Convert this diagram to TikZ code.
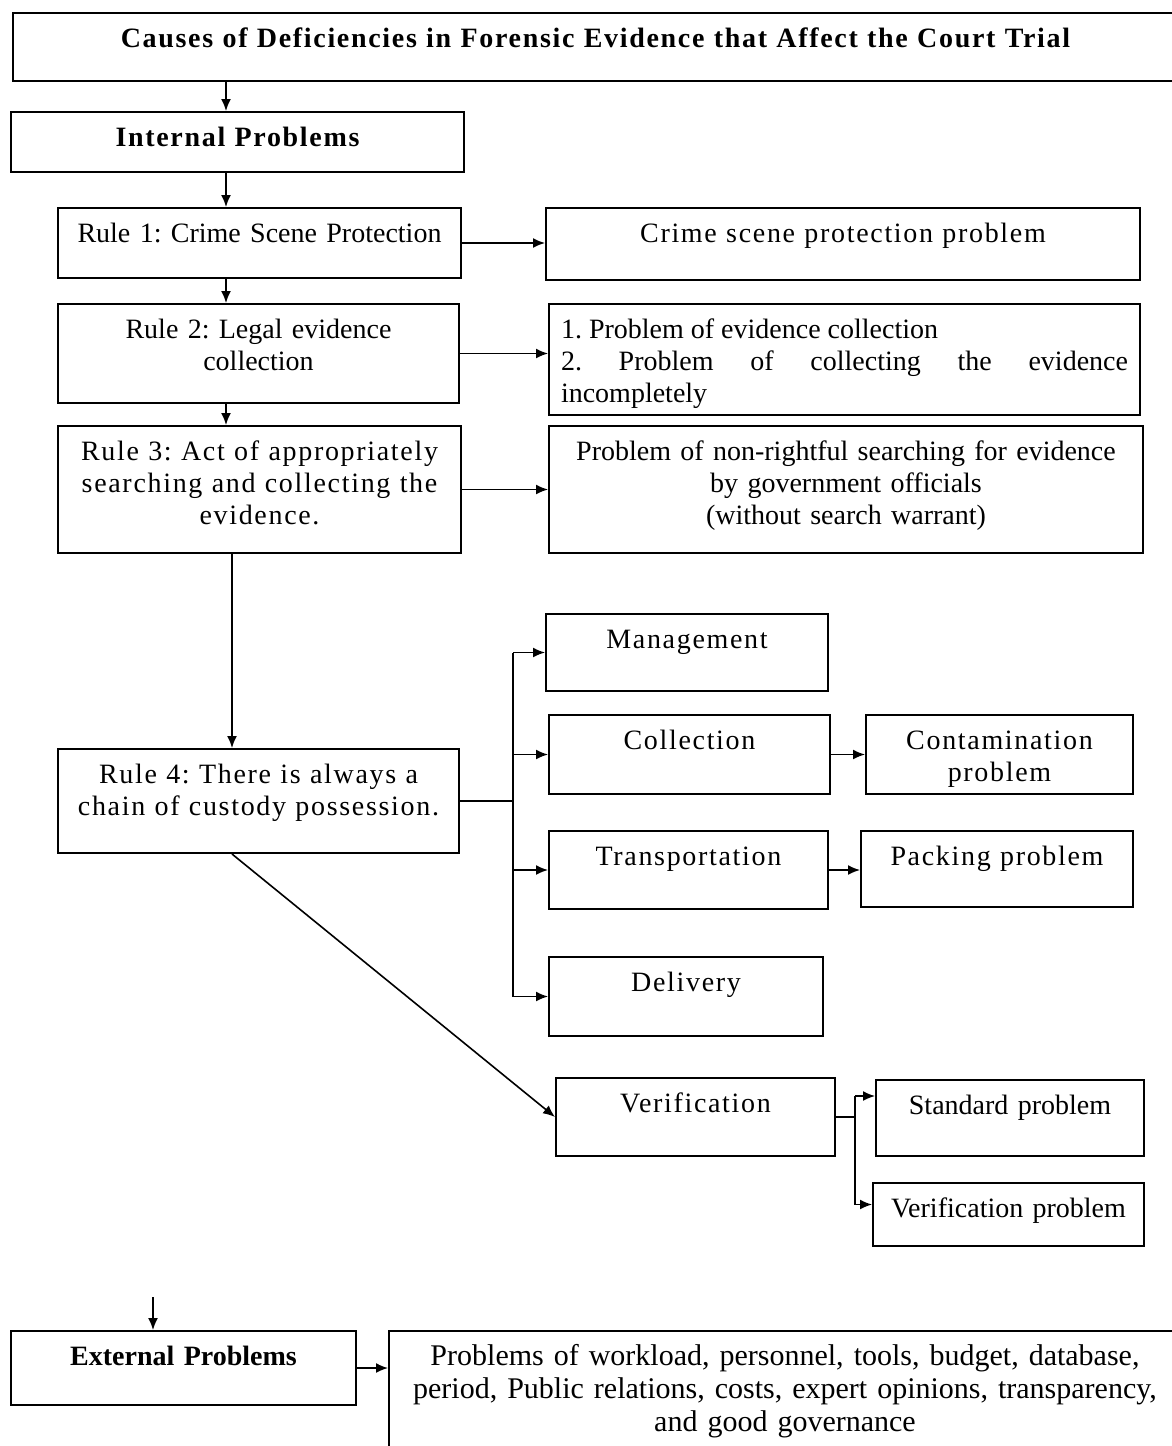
\documentclass[tikz,border=0pt]{standalone}
\usepackage{fontspec}
\setmainfont{Liberation Serif}
\newfontfamily\widefont[LetterSpace=6]{Liberation Serif}
\usetikzlibrary{arrows.meta, calc}
\hyphenpenalty=10000
\frenchspacing

\tikzset{
    box/.style 2 args={draw, line width=1pt, anchor=north west, inner xsep=6pt, inner ysep=0pt,
        text width={(#1)*0.5pt-12pt}, align=center, text height=17pt, text depth={(#2)*0.5pt-17pt}},
    wide/.style={font=\fontsize{14}{16}\widefont},
    bold/.style={font=\fontsize{14}{16}\selectfont\bfseries},
    widebold/.style={font=\fontsize{14}{16}\widefont\bfseries},
    arr/.style={line width=0.8pt, -{Latex[length=6pt, width=5pt]}},
    lin/.style={line width=0.8pt}
}

\begin{document}
\begin{tikzpicture}[x=0.5pt, y=-0.5pt, font=\fontsize{14}{16}\selectfont]
    \useasboundingbox (0,0) rectangle (1172,1446);
%%%%%%%%%%%%%%%%%%%%%%%%%%%%%%%%%%%%%%%%%%
    \node[box={1165}{68}, widebold] (title) at (12,12) {Causes of Deficiencies in Forensic Evidence that Affect the Court Trial};
    \node[box={453}{60}, widebold] (internal) at (10,111) {Internal Problems};
    \node[box={403}{70}] (rule1) at (57,207) {Rule 1: Crime Scene Protection};
    \node[box={594}{72}, wide] (scene) at (545,207) {Crime scene protection problem};
    \node[box={401}{99}] (rule2) at (57,303) {Rule 2: Legal evidence\\ collection};
    \node[box={591}{111}, align=justify] (collection) at (548,303) {1. Problem of evidence collection\\ 2. Problem of collecting the evidence\linebreak incompletely};
    \node[box={403}{127}, wide] (rule3) at (57,425) {Rule 3: Act of appropriately\\ searching and collecting the\\ evidence.};
    \node[box={594}{127}] (search) at (548,425) {Problem of non-rightful searching for evidence\\ by government officials\\ (without search warrant)};
    \node[box={401}{104}, wide] (rule4) at (57,748) {Rule 4: There is always a\\ chain of custody possession.};
%%%%%%%%%%%%%%%%%%%%%%%%%%%%%%%%%%%%%%%%%%
    \node[box={282}{77}, wide] (manage) at (545,613) {Management};
    \node[box={281}{79}, wide] (collect) at (548,714) {Collection};
    \node[box={267}{79}, wide] (contam) at (865,714) {Contamination\\ problem};
    \node[box={279}{78}, wide] (transport) at (548,830) {Transportation};
    \node[box={272}{76}, wide] (packing) at (860,830) {Packing problem};
    \node[box={274}{79}, wide] (delivery) at (548,956) {Delivery};
    \node[box={279}{78}, wide] (verify) at (555,1077) {Verification};
    \node[box={268}{76}] (standard) at (875,1079) {Standard problem};
    \node[box={271}{63}] (verprob) at (872,1182) {Verification problem};
%%%%%%%%%%%%%%%%%%%%%%%%%%%%%%%%%%%%%%%%%%
    \node[box={345}{74}, bold] (external) at (10,1330) {External Problems};
    \node[box={787}{120}, font=\fontsize{15}{16.5}\selectfont, text width=384pt] (extprob) at (388,1330) {Problems of workload, personnel, tools, budget, database,\\ period, Public relations, costs, expert opinions, transparency,\\ and good governance};
%%%%%%%%%%%%%%%%%%%%%%%%%%%%%%%%%%%%%%%%%%
    \coordinate (spine) at (226,0);
    \coordinate (spineb) at (232,0);
    \coordinate (trunk) at (513,0);
    \coordinate (fork) at (855,0);
    \coordinate (extin) at (153,1297);
    \coordinate (stdin) at ([yshift=11pt]standard.west);
    \coordinate (verin) at ([yshift=5pt]verprob.west);

    \draw[arr] (title.south -| spine) -- (internal.north -| spine);
    \foreach \a/\b in {internal/rule1, rule1/rule2, rule2/rule3}
        \draw[arr] (\a.south -| spine) -- (\b.north -| spine);
    \draw[arr] (rule3.south -| spineb) -- (rule4.north -| spineb);
    \foreach \a/\b in {rule1/scene, rule2/collection, rule3/search, collect/contam, transport/packing, external/extprob}
        \draw[arr] (\a.east) -- (\a.east -| \b.west);
    \draw[lin] (rule4.east) -- (rule4.east -| trunk);
    \draw[lin] (manage.west -| trunk) -- (delivery.west -| trunk);
    \foreach \b in {manage, collect, transport, delivery}
        \draw[arr] (\b.west -| trunk) -- (\b.west);
    \draw[arr] (rule4.south -| spineb) -- (verify.west);
    \draw[lin] (verify.east) -- (verify.east -| fork);
    \draw[lin] (stdin -| fork) -- (verin -| fork);
    \draw[arr] (stdin -| fork) -- (stdin);
    \draw[arr] (verin -| fork) -- (verin);
    \draw[arr] (extin) -- (external.north -| extin);
\end{tikzpicture}
\end{document}
